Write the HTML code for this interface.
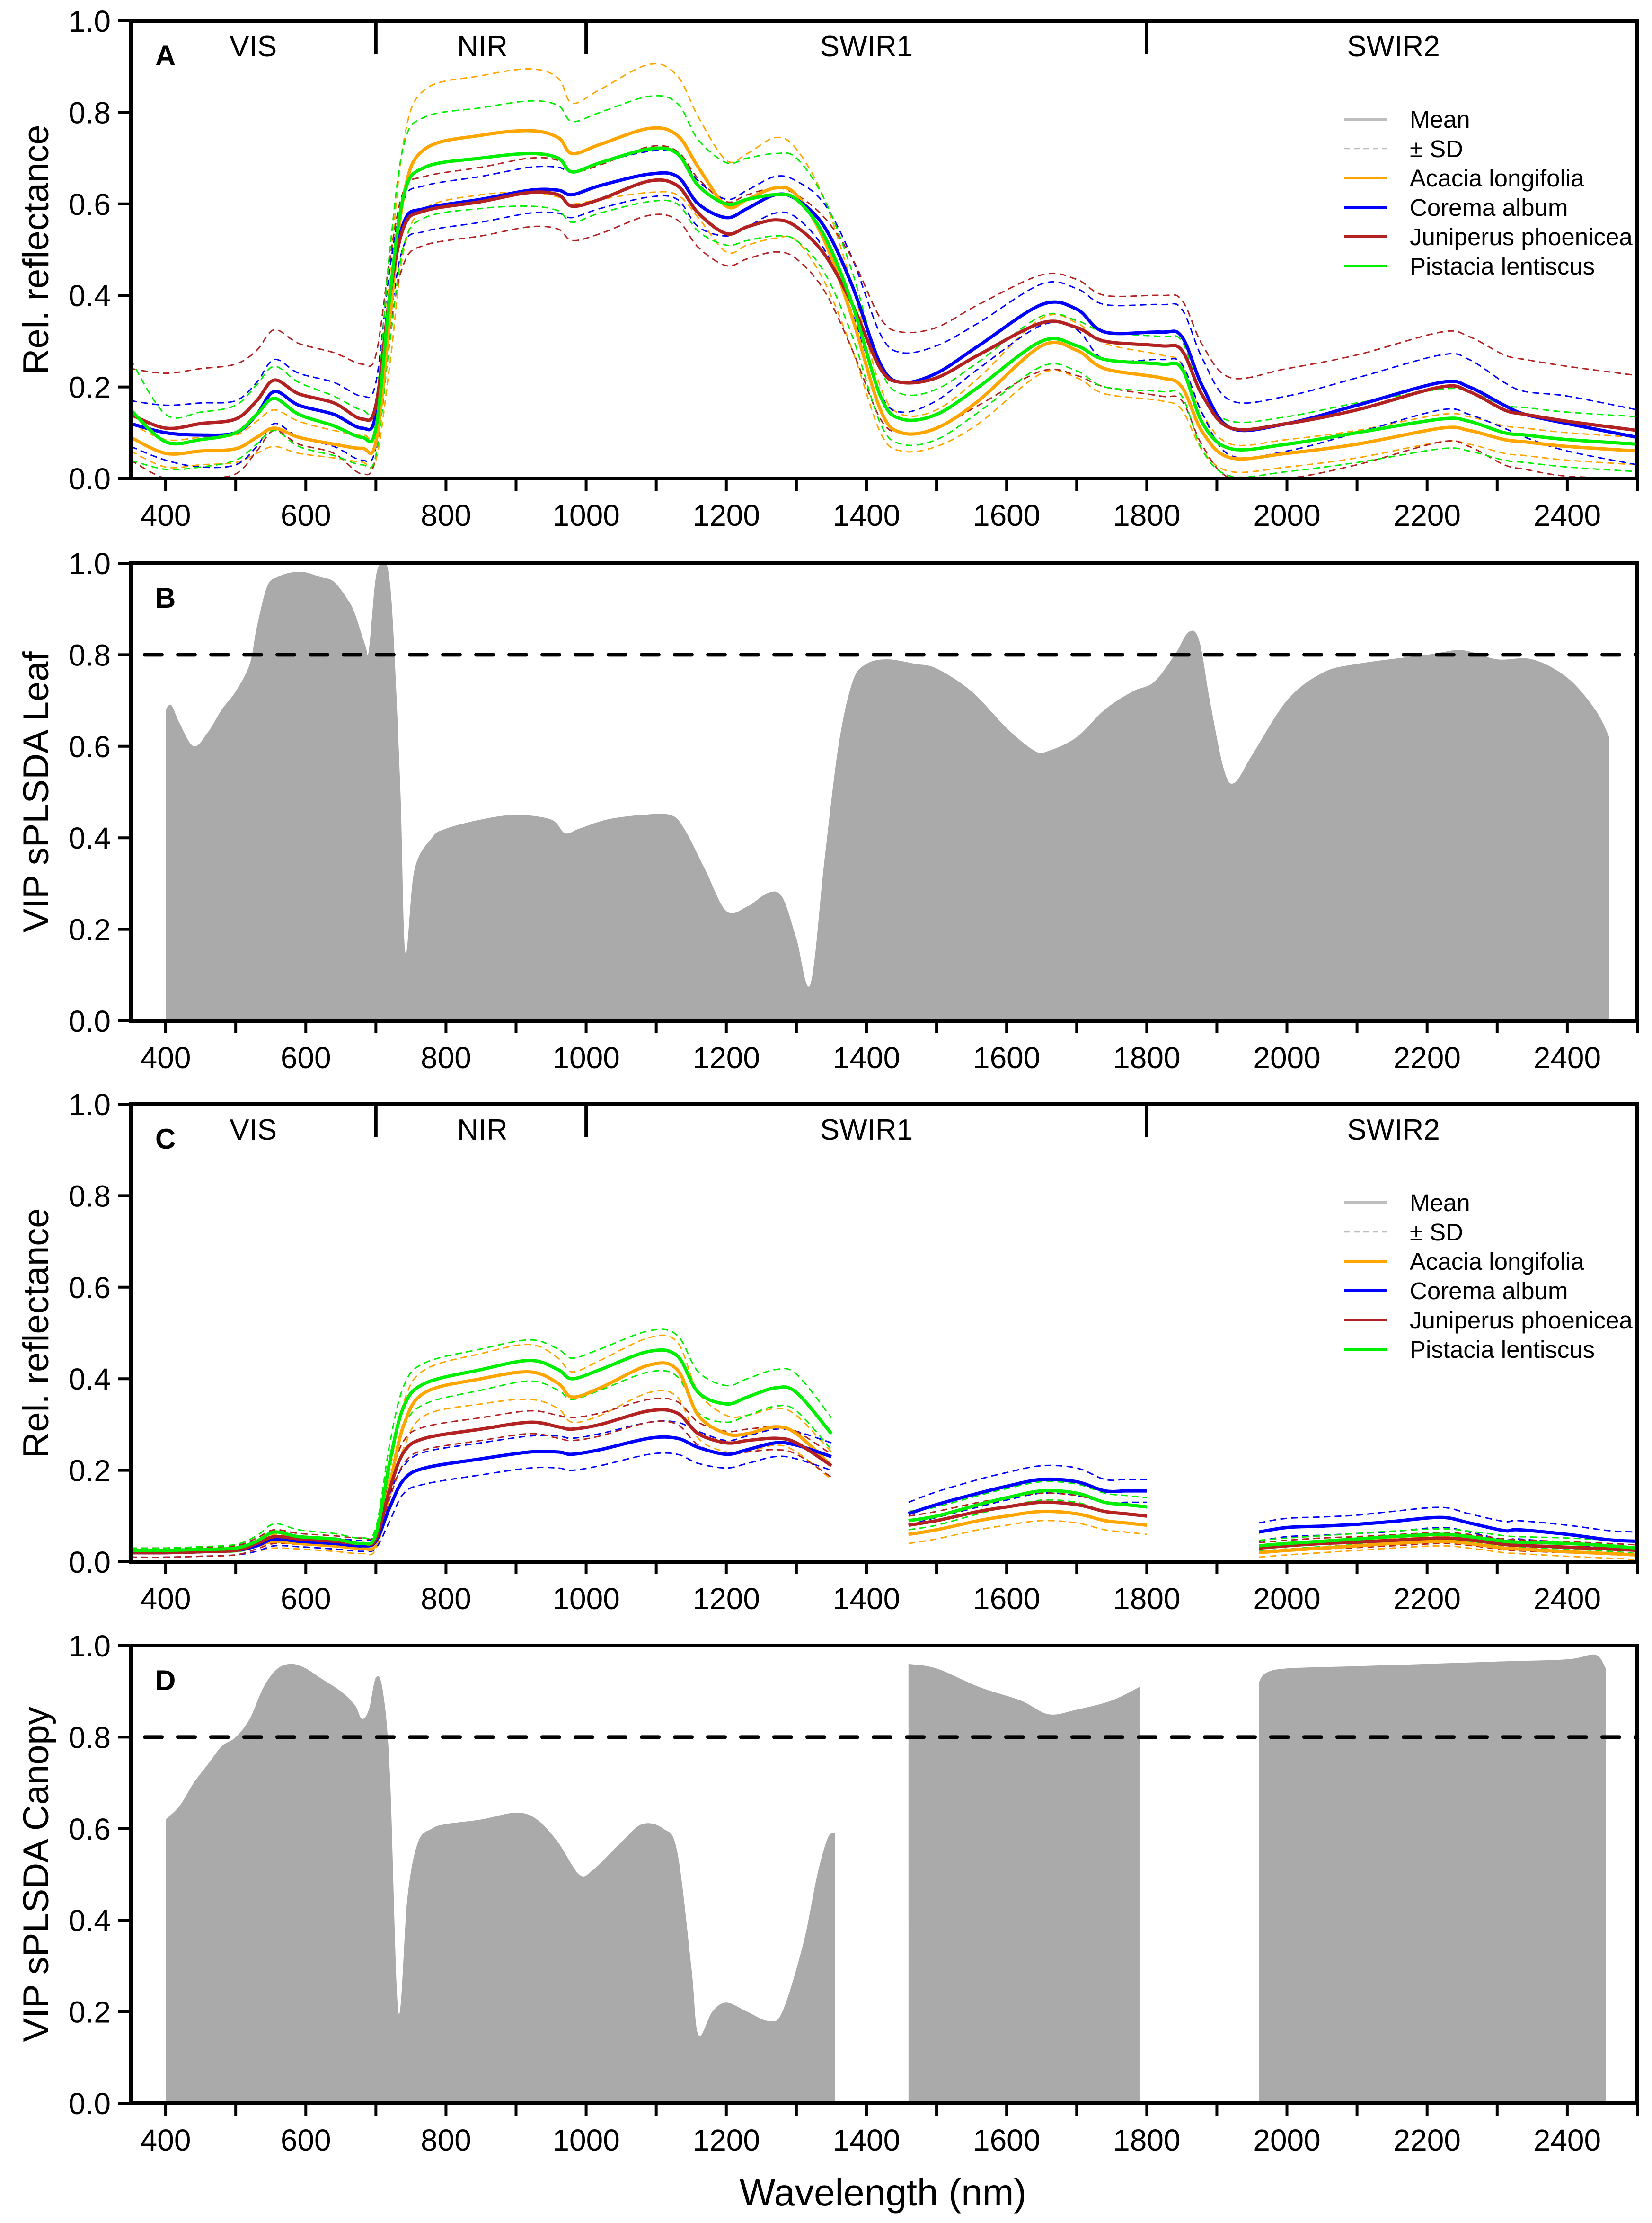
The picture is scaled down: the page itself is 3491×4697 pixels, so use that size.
<!DOCTYPE html>
<html><head><meta charset="utf-8">
<style>
html,body{margin:0;padding:0;background:#fff;}
svg{display:block;}
text{font-family:"Liberation Sans",Arial,sans-serif;}
</style></head>
<body>
<svg id="fig" xmlns="http://www.w3.org/2000/svg" width="3491" height="4697" viewBox="0 0 3491 4697"></svg>
<script>
// ---------- DATA ----------
const wlA = [350,400,450,500,530,555,590,640,680,700,720,740,770,850,920,960,980,1020,1090,1130,1160,1200,1230,1270,1300,1340,1380,1420,1450,1500,1560,1650,1700,1740,1820,1850,1880,1920,2000,2100,2220,2260,2310,2340,2400,2500];
const acaciaMeanA = [0.09,0.055,0.06,0.065,0.09,0.11,0.09,0.075,0.066,0.08,0.35,0.62,0.72,0.75,0.76,0.745,0.71,0.73,0.765,0.75,0.68,0.595,0.61,0.635,0.62,0.52,0.35,0.15,0.10,0.11,0.17,0.29,0.28,0.24,0.22,0.20,0.10,0.045,0.055,0.075,0.11,0.105,0.085,0.08,0.07,0.06];
const acaciaSdA   = [0.03,0.03,0.03,0.03,0.035,0.04,0.035,0.03,0.03,0.04,0.10,0.12,0.13,0.13,0.135,0.13,0.11,0.12,0.14,0.13,0.11,0.10,0.10,0.11,0.10,0.09,0.07,0.05,0.04,0.04,0.05,0.06,0.06,0.055,0.05,0.05,0.04,0.03,0.03,0.03,0.03,0.03,0.03,0.03,0.03,0.03];
const coremaMeanA = [0.12,0.10,0.095,0.10,0.14,0.19,0.16,0.14,0.11,0.14,0.40,0.56,0.59,0.61,0.63,0.63,0.62,0.64,0.665,0.66,0.60,0.57,0.59,0.62,0.61,0.55,0.42,0.25,0.21,0.23,0.29,0.38,0.37,0.32,0.32,0.31,0.20,0.11,0.12,0.16,0.21,0.20,0.16,0.14,0.12,0.09];
const coremaSdA   = [0.05,0.06,0.07,0.07,0.07,0.07,0.07,0.07,0.07,0.07,0.06,0.05,0.05,0.05,0.05,0.05,0.05,0.05,0.05,0.05,0.05,0.04,0.04,0.04,0.04,0.05,0.06,0.065,0.065,0.06,0.05,0.045,0.045,0.06,0.06,0.06,0.06,0.06,0.06,0.06,0.06,0.06,0.05,0.05,0.06,0.06];
const junipMeanA  = [0.14,0.11,0.12,0.13,0.17,0.215,0.185,0.165,0.13,0.16,0.40,0.55,0.585,0.605,0.625,0.62,0.595,0.61,0.65,0.64,0.58,0.535,0.55,0.565,0.55,0.49,0.38,0.24,0.21,0.22,0.27,0.34,0.33,0.30,0.29,0.28,0.18,0.11,0.12,0.15,0.20,0.19,0.15,0.14,0.125,0.105];
const junipSdA    = [0.10,0.12,0.12,0.12,0.11,0.11,0.11,0.11,0.12,0.11,0.08,0.08,0.075,0.075,0.075,0.075,0.075,0.075,0.075,0.075,0.075,0.07,0.07,0.07,0.07,0.08,0.10,0.11,0.11,0.11,0.11,0.105,0.105,0.10,0.11,0.11,0.11,0.11,0.12,0.12,0.12,0.12,0.12,0.12,0.12,0.12];
const pistMeanA   = [0.15,0.08,0.085,0.10,0.14,0.175,0.14,0.115,0.09,0.11,0.40,0.62,0.68,0.70,0.71,0.70,0.67,0.69,0.72,0.71,0.64,0.60,0.61,0.62,0.61,0.53,0.38,0.18,0.13,0.14,0.20,0.30,0.29,0.26,0.25,0.24,0.12,0.065,0.075,0.10,0.13,0.125,0.10,0.095,0.085,0.075];
const pistSdA     = [0.11,0.06,0.06,0.06,0.065,0.07,0.07,0.065,0.06,0.06,0.10,0.11,0.11,0.11,0.115,0.115,0.11,0.11,0.115,0.11,0.10,0.09,0.09,0.09,0.09,0.08,0.07,0.06,0.055,0.055,0.055,0.055,0.055,0.06,0.06,0.06,0.06,0.06,0.06,0.065,0.065,0.065,0.06,0.06,0.06,0.06];

const wlC1 = [350,400,450,500,530,555,590,640,680,700,720,740,770,850,920,960,980,1020,1090,1130,1160,1200,1230,1270,1300,1350];
const wlC2 = [1460,1500,1560,1600,1650,1700,1740,1770,1800];
const wlC3 = [1960,2000,2050,2100,2150,2220,2260,2310,2330,2400,2460,2500];
const acaciaMeanC = [0.02,0.02,0.022,0.025,0.035,0.045,0.04,0.035,0.03,0.04,0.17,0.30,0.37,0.40,0.415,0.39,0.36,0.38,0.43,0.42,0.32,0.28,0.28,0.295,0.28,0.21,
  0.06,0.07,0.09,0.10,0.11,0.105,0.09,0.085,0.08,
  0.02,0.025,0.03,0.035,0.04,0.045,0.04,0.03,0.028,0.022,0.018,0.015];
const acaciaSdC   = [0.01,0.01,0.01,0.01,0.012,0.015,0.012,0.012,0.012,0.012,0.03,0.05,0.05,0.055,0.06,0.055,0.055,0.06,0.06,0.06,0.05,0.04,0.04,0.04,0.04,0.03,
  0.02,0.02,0.02,0.02,0.02,0.02,0.02,0.02,0.02,
  0.01,0.01,0.01,0.01,0.01,0.01,0.01,0.01,0.01,0.01,0.01,0.01];
const coremaMeanC = [0.02,0.02,0.022,0.025,0.035,0.05,0.045,0.04,0.035,0.045,0.12,0.18,0.205,0.225,0.24,0.24,0.235,0.245,0.27,0.27,0.25,0.235,0.245,0.26,0.255,0.23,
  0.105,0.125,0.15,0.165,0.18,0.175,0.155,0.155,0.155,
  0.065,0.075,0.078,0.082,0.088,0.097,0.085,0.068,0.07,0.06,0.048,0.045];
const coremaSdC   = [0.01,0.01,0.01,0.01,0.012,0.015,0.012,0.012,0.012,0.015,0.03,0.03,0.035,0.035,0.035,0.035,0.035,0.035,0.035,0.035,0.035,0.03,0.03,0.03,0.03,0.03,
  0.025,0.028,0.03,0.03,0.03,0.03,0.025,0.025,0.025,
  0.02,0.02,0.02,0.02,0.022,0.022,0.02,0.02,0.02,0.02,0.02,0.02];
const junipMeanC  = [0.02,0.02,0.022,0.025,0.04,0.055,0.05,0.045,0.04,0.05,0.16,0.24,0.27,0.29,0.305,0.295,0.29,0.30,0.33,0.325,0.28,0.26,0.265,0.27,0.26,0.21,
  0.08,0.09,0.11,0.12,0.13,0.125,0.11,0.105,0.10,
  0.03,0.035,0.04,0.043,0.047,0.052,0.048,0.038,0.036,0.032,0.028,0.025];
const junipSdC    = [0.01,0.01,0.01,0.01,0.012,0.015,0.012,0.012,0.012,0.012,0.02,0.025,0.025,0.025,0.025,0.025,0.025,0.025,0.025,0.025,0.025,0.025,0.025,0.025,0.025,0.025,
  0.02,0.02,0.02,0.02,0.02,0.02,0.02,0.02,0.02,
  0.012,0.012,0.012,0.012,0.012,0.012,0.012,0.012,0.012,0.012,0.012,0.012];
const pistMeanC   = [0.025,0.025,0.027,0.03,0.045,0.065,0.055,0.05,0.04,0.06,0.22,0.34,0.39,0.42,0.44,0.42,0.40,0.42,0.46,0.45,0.37,0.345,0.36,0.38,0.37,0.28,
  0.09,0.10,0.125,0.14,0.155,0.15,0.13,0.125,0.12,
  0.035,0.04,0.045,0.05,0.055,0.06,0.055,0.045,0.043,0.04,0.035,0.03];
const pistSdC     = [0.005,0.005,0.006,0.008,0.012,0.018,0.015,0.012,0.012,0.015,0.04,0.045,0.045,0.045,0.045,0.045,0.045,0.045,0.045,0.045,0.045,0.04,0.04,0.04,0.04,0.035,
  0.02,0.02,0.02,0.02,0.02,0.02,0.02,0.02,0.02,
  0.012,0.012,0.012,0.012,0.012,0.012,0.012,0.012,0.012,0.012,0.012,0.012];

const wlVipLeaf = [400,408,420,440,460,480,500,520,530,545,560,580,600,620,640,660,670,685,690,700,710,718,725,735,742,755,780,800,850,900,950,970,990,1030,1080,1120,1140,1170,1200,1230,1260,1280,1300,1320,1340,1360,1380,1400,1430,1470,1500,1550,1600,1640,1660,1700,1740,1780,1810,1840,1860,1875,1890,1910,1925,1950,2000,2050,2100,2200,2250,2300,2350,2400,2440,2460];
const vipLeaf   = [0.68,0.69,0.65,0.60,0.63,0.68,0.72,0.78,0.86,0.95,0.97,0.98,0.98,0.97,0.96,0.92,0.89,0.82,0.81,0.97,1.0,0.98,0.85,0.5,0.15,0.33,0.40,0.42,0.44,0.45,0.44,0.41,0.42,0.44,0.45,0.45,0.42,0.33,0.24,0.25,0.28,0.27,0.18,0.08,0.35,0.60,0.74,0.78,0.79,0.78,0.77,0.72,0.64,0.59,0.59,0.62,0.68,0.72,0.74,0.80,0.85,0.83,0.70,0.55,0.52,0.58,0.70,0.76,0.78,0.80,0.81,0.79,0.79,0.75,0.68,0.62];

const wlVipCan1 = [400,420,440,460,480,500,520,540,560,580,600,620,650,670,680,690,700,710,720,732,745,760,780,800,850,900,930,960,990,1010,1050,1080,1110,1130,1150,1160,1180,1200,1230,1260,1280,1310,1330,1345,1355];
const vipCan1   = [0.62,0.65,0.70,0.74,0.78,0.80,0.84,0.91,0.95,0.96,0.95,0.93,0.90,0.87,0.84,0.86,0.93,0.90,0.72,0.20,0.45,0.57,0.60,0.61,0.62,0.635,0.62,0.57,0.50,0.51,0.57,0.61,0.60,0.55,0.30,0.15,0.20,0.22,0.20,0.18,0.20,0.35,0.50,0.58,0.59];
const wlVipCan2 = [1460,1500,1560,1620,1660,1700,1750,1790];
const vipCan2   = [0.96,0.95,0.91,0.88,0.85,0.86,0.88,0.91];
const wlVipCan3 = [1960,1970,2000,2100,2200,2300,2400,2440,2455];
const vipCan3   = [0.92,0.94,0.95,0.955,0.96,0.965,0.97,0.98,0.95];

const xTicks = [400,600,800,1000,1200,1400,1600,1800,2000,2200,2400];
const yTicks = [0,0.2,0.4,0.6,0.8,1.0];
const regionNames = ['VIS','NIR','SWIR1','SWIR2'];
const regionCenters = [525,852,1400,2152];
const regionBounds = [700,1000,1800];
const legendLabels = ['Mean','± SD','Acacia longifolia','Corema album','Juniperus phoenicea','Pistacia lentiscus'];

// ---------- LAYOUT ----------
const NS='http://www.w3.org/2000/svg';
const svg=document.getElementById('fig');
const X0=276, X1=3460, WL0=350, WL1=2500;
const PH=967;
const panelTops=[44,1190,2333,3477];
const xs = w => X0 + (w-WL0)*(X1-X0)/(WL1-WL0);
const ysFor = top => v => top + PH - v*PH;
const COL={ac:'#FFA500',co:'#0000FF',ju:'#B22222',pi:'#00EE00'};

function el(tag, attrs, parent){
  const e=document.createElementNS(NS,tag);
  for(const k in attrs) e.setAttribute(k,attrs[k]);
  (parent||svg).appendChild(e); return e;
}
function smoothPath(pts){
  if(pts.length<2) return '';
  let d='M'+pts[0][0].toFixed(1)+','+pts[0][1].toFixed(1);
  for(let i=0;i<pts.length-1;i++){
    const p0=pts[Math.max(0,i-1)],p1=pts[i],p2=pts[i+1],p3=pts[Math.min(pts.length-1,i+2)];
    const c1x=p1[0]+(p2[0]-p0[0])/6, c1y=p1[1]+(p2[1]-p0[1])/6;
    const c2x=p2[0]-(p3[0]-p1[0])/6, c2y=p2[1]-(p3[1]-p1[1])/6;
    d+=' C'+c1x.toFixed(1)+','+c1y.toFixed(1)+' '+c2x.toFixed(1)+','+c2y.toFixed(1)+' '+p2[0].toFixed(1)+','+p2[1].toFixed(1);
  }
  return d;
}

function drawAxes(top, letter, ytitle, g){
  const ys=ysFor(top);
  for(let w=400; w<=2500; w+=100){
    const t=el('line',{x1:xs(w),x2:xs(w),y1:top+PH,y2:top+PH+26,stroke:'#000','stroke-width':6},g);
    
    
  }
  xTicks.forEach(w=>{
    const t=el('text',{x:xs(w),y:top+PH+100,'font-size':64,'text-anchor':'middle',fill:'#000'},g);
    t.textContent=w;
    
    
  });
  yTicks.forEach(v=>{
    const l=el('line',{x1:X0-26,x2:X0,y1:ys(v),y2:ys(v),stroke:'#000','stroke-width':6},g);
    
    
    const t=el('text',{x:X0-42,y:ys(v)+23,'font-size':64,'text-anchor':'end',fill:'#000'},g);
    t.textContent=v.toFixed(1);
    
    
  });
  const yt=el('text',{x:0,y:0,'font-size':76,'text-anchor':'middle',fill:'#000',transform:`translate(102,${top+PH/2}) rotate(-90)`},g);
  yt.textContent=ytitle;
  
  
  const lt=el('text',{x:328,y:top+94,'font-size':60,'font-weight':'bold',fill:'#000'},g);
  lt.textContent=letter;
  
  
}
function drawFrame(top,g){
  const f=el('rect',{x:X0,y:top,width:X1-X0,height:PH,fill:'none',stroke:'#000','stroke-width':8},g);
  
  
}
function drawRegions(top,g){
  regionBounds.forEach(w=>{
    const l=el('line',{x1:xs(w),x2:xs(w),y1:top,y2:top+70,stroke:'#000','stroke-width':7},g);
    
    
  });
  regionNames.forEach((n,i)=>{
    const t=el('text',{x:xs(regionCenters[i]),y:top+75,'font-size':62,'text-anchor':'middle',fill:'#000'},g);
    t.textContent=n;
    
    
  });
}
function drawLegend(top,g){
  const cols=['#BEBEBE','#BEBEBE',COL.ac,COL.co,COL.ju,COL.pi];
  legendLabels.forEach((lab,i)=>{
    const y=top+208+i*62;
    const ln=el('line',{x1:2841,x2:2931,y1:y,y2:y,stroke:cols[i],'stroke-width':i==1?2.5:6},g);
    if(i==1) ln.setAttribute('stroke-dasharray','12 8');
    
    
    const t=el('text',{x:2979,y:y+18,'font-size':51,fill:'#000'},g);
    t.textContent=lab;
    
    
  });
}
function drawSpectra(top, segs, series, g){
  const ys=ysFor(top);
  series.forEach(s=>{
    let off=0;
    segs.forEach(wl=>{
      const m=s.mean.slice(off,off+wl.length), sd=s.sd.slice(off,off+wl.length);
      off+=wl.length;
      const up=wl.map((w,i)=>[xs(w),ys(m[i]+sd[i])]);
      const lo=wl.map((w,i)=>[xs(w),ys(Math.max(0,m[i]-sd[i]))]);
      const a=el('path',{d:smoothPath(up),fill:'none',stroke:s.c,'stroke-width':3,'stroke-dasharray':'14 9'},g);
      
      
      const b=el('path',{d:smoothPath(lo),fill:'none',stroke:s.c,'stroke-width':3,'stroke-dasharray':'14 9'},g);
      
      
    });
  });
  series.forEach(s=>{
    let off=0;
    segs.forEach(wl=>{
      const m=s.mean.slice(off,off+wl.length); off+=wl.length;
      const p=el('path',{d:smoothPath(wl.map((w,i)=>[xs(w),ys(m[i])])),fill:'none',stroke:s.c,'stroke-width':7},g);
      
      
    });
  });
}
function drawVip(top, segs, g){
  const ys=ysFor(top);
  segs.forEach(([wl,v])=>{
    const pts=wl.map((w,i)=>[xs(w),ys(v[i])]);
    let d=smoothPath(pts)+` L${xs(wl[wl.length-1])},${ys(0)} L${xs(wl[0])},${ys(0)} Z`;
    const p=el('path',{d:d,fill:'#AAAAAA',stroke:'none'},g);
    
    
  });
  const t=el('line',{x1:X0+30,x2:X1,y1:ys(0.8),y2:ys(0.8),stroke:'#000','stroke-width':8,'stroke-dasharray':'36 34','stroke-linecap':'round'},g);
  
  
}

// Panel A
const gA=el('g',{});


drawSpectra(panelTops[0],[wlA],[
  {n:'acacia',c:COL.ac,mean:acaciaMeanA,sd:acaciaSdA},
  {n:'corema',c:COL.co,mean:coremaMeanA,sd:coremaSdA},
  {n:'juniperus',c:COL.ju,mean:junipMeanA,sd:junipSdA},
  {n:'pistacia',c:COL.pi,mean:pistMeanA,sd:pistSdA}],gA);
const mA=el('rect',{x:X0,y:panelTops[0]+PH+4,width:X1-X0,height:60,fill:'#fff'},gA);


drawRegions(panelTops[0],gA); drawLegend(panelTops[0],gA);
drawFrame(panelTops[0],gA); drawAxes(panelTops[0],'A','Rel. reflectance',gA);

// Panel B
const gB=el('g',{});


drawVip(panelTops[1],[[wlVipLeaf,vipLeaf]],gB);
drawFrame(panelTops[1],gB); drawAxes(panelTops[1],'B','VIP sPLSDA Leaf',gB);

// Panel C
const gC=el('g',{});


drawSpectra(panelTops[2],[wlC1,wlC2,wlC3],[
  {n:'acacia',c:COL.ac,mean:acaciaMeanC,sd:acaciaSdC},
  {n:'corema',c:COL.co,mean:coremaMeanC,sd:coremaSdC},
  {n:'juniperus',c:COL.ju,mean:junipMeanC,sd:junipSdC},
  {n:'pistacia',c:COL.pi,mean:pistMeanC,sd:pistSdC}],gC);
drawRegions(panelTops[2],gC); drawLegend(panelTops[2],gC);
drawFrame(panelTops[2],gC); drawAxes(panelTops[2],'C','Rel. reflectance',gC);

// Panel D
const gD=el('g',{});


drawVip(panelTops[3],[[wlVipCan1,vipCan1],[wlVipCan2,vipCan2],[wlVipCan3,vipCan3]],gD);
drawFrame(panelTops[3],gD); drawAxes(panelTops[3],'D','VIP sPLSDA Canopy',gD);

const xt=el('text',{x:1866,y:4660,'font-size':80,'text-anchor':'middle',fill:'#000'});
xt.textContent='Wavelength (nm)';


</script>
</body></html>
